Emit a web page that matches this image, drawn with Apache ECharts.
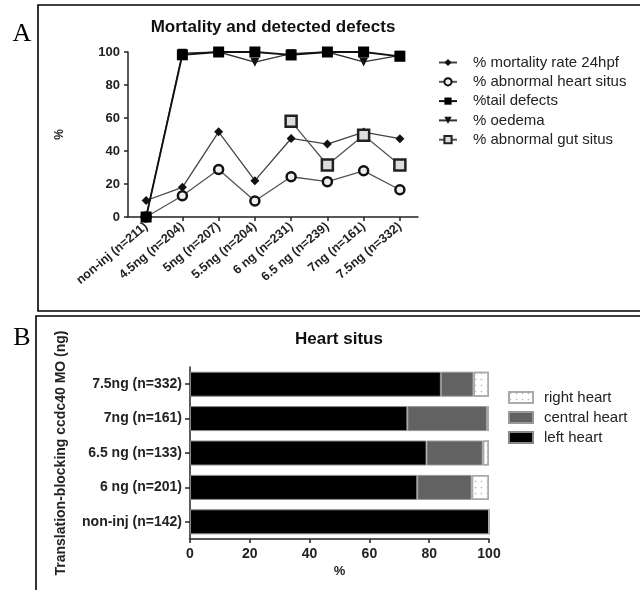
<!DOCTYPE html>
<html><head><meta charset="utf-8">
<script src="https://cdn.jsdelivr.net/npm/echarts@6/dist/echarts.min.js"></script>
<style>html,body{margin:0;padding:0;background:#fff}#c{width:640px;height:590px}</style>
</head><body><div id="c"></div>
<script>
// Panel A data
const doseCategories = ['non-inj (n=211)','4.5ng (n=204)','5ng (n=207)','5.5ng (n=204)','6 ng (n=231)','6.5 ng (n=239)','7ng (n=161)','7.5ng (n=332)'];
const mortality = [10, 18, 51.6, 22, 47.6, 44.2, 51.5, 47.5];
const abnormalHeart = [0, 12.9, 28.8, 9.7, 24.4, 21.4, 28, 16.5];
const tailDefects = [0, 98.3, 100, 100, 98.2, 100, 100, 97.4];
const oedema = [0, 99.3, 100, 93.8, 99, 100, 94, 98];
const abnormalGut = [null, null, null, null, 58, 31.5, 49.5, 31.5];
const yTicksA = [0, 20, 40, 60, 80, 100];
// Panel B data (bottom to top)
const heartCategories = ['non-inj (n=142)','6 ng (n=201)','6.5 ng (n=133)','7ng (n=161)','7.5ng (n=332)'];
const leftHeart = [100, 76, 79.1, 72.7, 83.9];
const centralHeart = [0, 18.2, 18.8, 26.6, 10.9];
const rightHeart = [0, 5.8, 2.1, 0.7, 5.2];

const FF = '"Liberation Sans", Arial, sans-serif';
const TXT = '#222';
const chart = echarts.init(document.getElementById('c'));
const axisCommon = {
  axisLine: {show: true, lineStyle: {color: '#222', width: 1.5}},
  axisTick: {show: true, length: 4, lineStyle: {color: '#222', width: 1.5}},
  splitLine: {show: false}
};
chart.setOption({
  animation: false,
  graphic: [
    {type: 'polyline', shape: {points: [[640,5],[38,5],[38,311],[640,311]]}, style: {stroke: '#000', lineWidth: 1.6, fill: null}},
    {type: 'polyline', shape: {points: [[640,316],[36,316],[36,592]]}, style: {stroke: '#000', lineWidth: 1.6, fill: null}},
    {type: 'text', style: {text: 'A', x: 22, y: 34, textAlign: 'center', textVerticalAlign: 'middle', font: '26px "Liberation Serif", "DejaVu Serif", serif', fill: '#000'}},
    {type: 'text', style: {text: 'B', x: 22, y: 338, textAlign: 'center', textVerticalAlign: 'middle', font: '26px "Liberation Serif", "DejaVu Serif", serif', fill: '#000'}},
    {type: 'text', style: {text: 'Mortality and detected defects', x: 273, y: 27, textAlign: 'center', textVerticalAlign: 'middle', font: 'bold 17px ' + FF, fill: '#111'}},
    {type: 'text', style: {text: 'Heart situs', x: 339, y: 339, textAlign: 'center', textVerticalAlign: 'middle', font: 'bold 17px ' + FF, fill: '#111'}}
  ],
  legend: [
    {
      left: 438, top: 55, padding: 0, orient: 'vertical', itemWidth: 18, itemHeight: 9, itemGap: 4.3,
      textStyle: {fontFamily: FF, fontSize: 15, color: TXT, padding: [0,0,0,11]},
      data: ['% mortality rate 24hpf','% abnormal heart situs','%tail defects','% oedema','% abnormal gut situs']
    },
    {
      left: 508, top: 390, padding: 0, orient: 'vertical', itemWidth: 24, itemHeight: 11, itemGap: 5,
      icon: 'rect',
      textStyle: {fontFamily: FF, fontSize: 15, color: TXT, padding: [0,0,0,6]},
      data: ['right heart','central heart','left heart']
    }
  ],
  grid: [
    {left: 128, top: 52, width: 290, height: 165},
    {left: 190, top: 367, width: 299, height: 172}
  ],
  xAxis: [
    Object.assign({}, axisCommon, {
      type: 'category', gridIndex: 0, data: doseCategories, boundaryGap: true,
      axisTick: {show: true, alignWithLabel: true, length: 4, lineStyle: {color: '#222', width: 1.5}},
      axisLabel: {rotate: 40, margin: 8, fontFamily: FF, fontWeight: 'bold', fontSize: 12.5, color: TXT, interval: 0}
    }),
    Object.assign({}, axisCommon, {
      type: 'value', gridIndex: 1, min: 0, max: 100, interval: 20,
      name: '%', nameLocation: 'middle', nameGap: 26,
      nameTextStyle: {fontFamily: FF, fontWeight: 'bold', fontSize: 13, color: TXT},
      axisLabel: {margin: 8, fontFamily: FF, fontWeight: 'bold', fontSize: 14, color: TXT}
    })
  ],
  yAxis: [
    Object.assign({}, axisCommon, {
      type: 'value', gridIndex: 0, min: 0, max: 100, interval: 20,
      name: '%', nameLocation: 'middle', nameGap: 62,
      nameTextStyle: {fontFamily: FF, fontWeight: 'bold', fontSize: 12, color: TXT},
      axisLabel: {margin: 8, fontFamily: FF, fontWeight: 'bold', fontSize: 13, color: TXT, formatter: v => yTicksA.includes(v) ? String(v) : ''}
    }),
    Object.assign({}, axisCommon, {
      type: 'category', gridIndex: 1, data: heartCategories, boundaryGap: true,
      axisTick: {show: true, alignWithLabel: true, length: 5, lineStyle: {color: '#222', width: 1.5}},
      name: 'Translation-blocking ccdc40 MO (ng)', nameLocation: 'middle', nameGap: 122,
      nameTextStyle: {fontFamily: FF, fontWeight: 'bold', fontSize: 14, color: TXT},
      axisLabel: {margin: 8, fontFamily: FF, fontWeight: 'bold', fontSize: 14, color: TXT}
    })
  ],
  series: [
    {name: '% mortality rate 24hpf', type: 'line', xAxisIndex: 0, yAxisIndex: 0, data: mortality,
      symbol: 'diamond', symbolSize: 9, itemStyle: {color: '#111'}, lineStyle: {color: '#444', width: 1.3}, z: 3},
    {name: '% abnormal heart situs', type: 'line', xAxisIndex: 0, yAxisIndex: 0, data: abnormalHeart,
      symbol: 'circle', symbolSize: 9, itemStyle: {color: '#eee', borderColor: '#111', borderWidth: 2.5}, lineStyle: {color: '#555', width: 1.3}, z: 3},
    {name: '%tail defects', type: 'line', xAxisIndex: 0, yAxisIndex: 0, data: tailDefects,
      symbol: 'rect', symbolSize: 11, itemStyle: {color: '#000'}, lineStyle: {color: '#111', width: 1.8}, z: 4},
    {name: '% oedema', type: 'line', xAxisIndex: 0, yAxisIndex: 0, data: oedema,
      symbol: 'triangle', symbolRotate: 180, symbolSize: 9, itemStyle: {color: '#111'}, lineStyle: {color: '#333', width: 1.3}, z: 3},
    {name: '% abnormal gut situs', type: 'line', xAxisIndex: 0, yAxisIndex: 0, data: abnormalGut,
      symbol: 'rect', symbolSize: 11, itemStyle: {color: '#ddd', borderColor: '#222', borderWidth: 2.5}, lineStyle: {color: '#555', width: 1.3}, z: 3},
    {name: 'left heart', type: 'bar', stack: 'h', xAxisIndex: 1, yAxisIndex: 1, data: leftHeart, barWidth: 25,
      itemStyle: {color: '#000', borderColor: '#888', borderWidth: 1}},
    {name: 'central heart', type: 'bar', stack: 'h', xAxisIndex: 1, yAxisIndex: 1, data: centralHeart, barWidth: 25,
      itemStyle: {color: '#626262', borderColor: '#999', borderWidth: 1}},
    {name: 'right heart', type: 'bar', stack: 'h', xAxisIndex: 1, yAxisIndex: 1, data: rightHeart, barWidth: 25,
      itemStyle: {color: '#fff', borderColor: '#aaa', borderWidth: 1.5,
        decal: {symbol: 'rect', symbolSize: 0.5, color: '#bbb', dashArrayX: 3, dashArrayY: 3}}}
  ]
});
</script></body></html>
